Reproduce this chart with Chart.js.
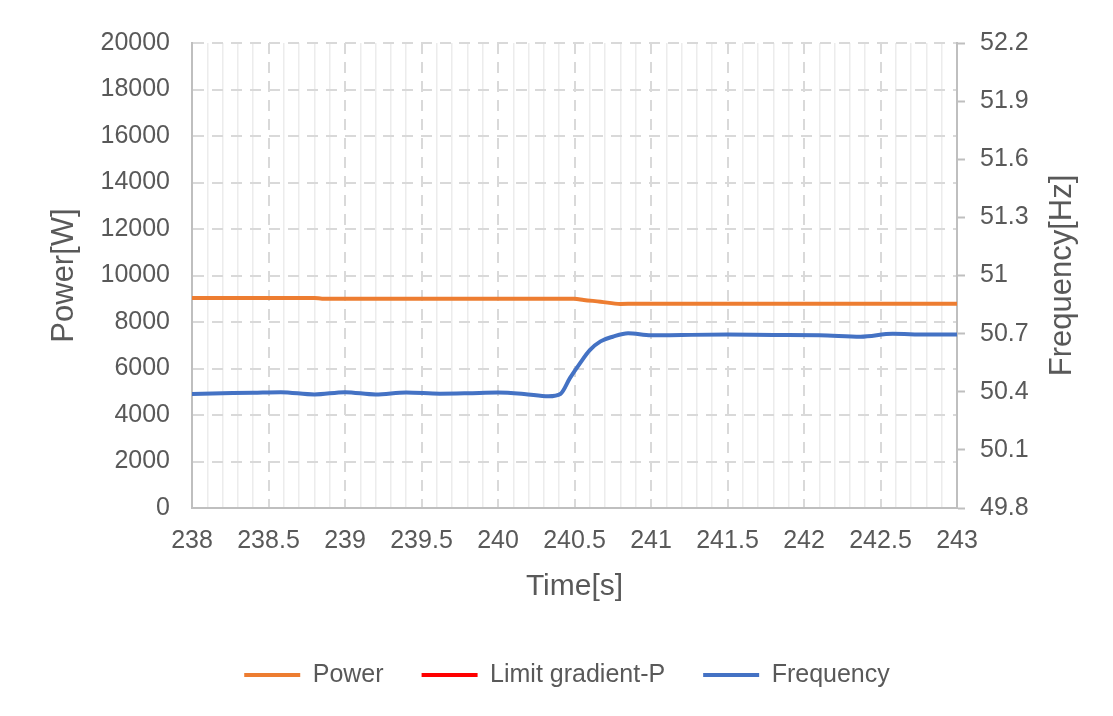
<!DOCTYPE html>
<html><head><meta charset="utf-8">
<script src="https://cdn.jsdelivr.net/npm/chart.js@4"></script>
<style>html,body{margin:0;padding:0;background:#fff;} canvas{display:block;}</style>
</head><body>
<canvas id="c" width="1113" height="716"></canvas>
<script>
// ---- data ----
const powerTimes  = [238.0, 238.8, 238.85, 240.5, 240.56, 240.67, 240.8, 240.9, 241.5, 242.0, 242.5, 243.0];
const powerValues = [9030, 9030, 9005, 9000, 8950, 8875, 8775, 8785, 8785, 8780, 8785, 8785];

const limitTimes  = [];
const limitValues = [];

const freqTimes  = [238.0, 238.2, 238.4, 238.58, 238.8, 239.0, 239.2, 239.4, 239.62, 239.8, 240.0, 240.17, 240.33, 240.41, 240.47, 240.54, 240.6, 240.67, 240.75, 240.85, 241.0, 241.2, 241.5, 241.8, 242.1, 242.37, 242.58, 242.8, 243.0];
const freqValues = [50.389, 50.392, 50.395, 50.398, 50.386, 50.398, 50.386, 50.396, 50.390, 50.392, 50.396, 50.389, 50.377, 50.390, 50.470, 50.552, 50.615, 50.660, 50.684, 50.702, 50.691, 50.693, 50.695, 50.693, 50.692, 50.684, 50.699, 50.695, 50.695];

const seriesNames  = ['Power', 'Limit gradient-P', 'Frequency'];
const seriesColors = ['#ED7D31', '#FF0000', '#4472C4'];

const timeRange  = [238, 243];
const timeMajorStep = 0.5;
const timeMinorStep = 0.1;
const powerRange = [0, 20000];
const powerStep  = 2000;
const freqRange  = [49.8, 52.2];
const freqStep   = 0.3;

const titleX  = 'Time[s]';
const titleY  = 'Power[W]';
const titleY1 = 'Frequency[Hz]';

// ---- styling ----
const FONT = "'Liberation Sans', Arial, sans-serif";
const TXT = '#595959';
const AXIS = '#bfbfbf';
const GRID_DASH = '#d9d9d9';
const GRID_MINOR = '#ececec';

const pts = (t, v) => t.map((x, i) => ({x: x, y: v[i]}));
const isHalf = v => Math.abs(v * 2 - Math.round(v * 2)) < 1e-6;
const fmt = v => String(Math.round(v * 10) / 10);

const rightTitle = {
  id: 'rightTitle',
  afterDraw(chart) {
    const s = chart.scales.y1;
    const ctx = chart.ctx;
    ctx.save();
    ctx.font = '31px ' + FONT;
    ctx.fillStyle = TXT;
    ctx.textAlign = 'center';
    ctx.textBaseline = 'middle';
    ctx.translate(s.right - 51, (s.top + s.bottom) / 2);
    ctx.rotate(-Math.PI / 2);
    ctx.fillText(titleY1, 0, 0);
    ctx.restore();
  }
};

new Chart(document.getElementById('c'), {
  type: 'line',
  data: {
    datasets: [
      {label: seriesNames[0], data: pts(powerTimes, powerValues), borderColor: seriesColors[0], backgroundColor: seriesColors[0], yAxisID: 'y', xAxisID: 'x'},
      {label: seriesNames[1], data: pts(limitTimes, limitValues), borderColor: seriesColors[1], backgroundColor: seriesColors[1], yAxisID: 'y', xAxisID: 'x'},
      {label: seriesNames[2], data: pts(freqTimes, freqValues), borderColor: seriesColors[2], backgroundColor: seriesColors[2], yAxisID: 'y1', xAxisID: 'x'}
    ]
  },
  options: {
    responsive: false,
    animation: false,
    devicePixelRatio: 1,
    elements: {
      line: {borderWidth: 4, tension: 0.4, cubicInterpolationMode: 'monotone', fill: false, borderCapStyle: 'round'},
      point: {radius: 0, hoverRadius: 0}
    },
    layout: {padding: {top: 43, left: 21, right: 0, bottom: 18.5}},
    plugins: {
      tooltip: {enabled: false},
      legend: {
        position: 'bottom',
        labels: {
          font: {family: FONT, size: 25},
          color: TXT,
          boxWidth: 56,
          boxHeight: 4,
          padding: 38,
          generateLabels(chart) {
            const items = Chart.defaults.plugins.legend.labels.generateLabels(chart);
            items.forEach(it => { it.lineWidth = 0; it.fillStyle = it.strokeStyle; });
            return items;
          }
        }
      }
    },
    scales: {
      xm: {
        type: 'linear', position: 'bottom',
        min: timeRange[0], max: timeRange[1],
        ticks: {display: false, stepSize: timeMinorStep},
        grid: {
          drawTicks: false, lineWidth: 1.5,
          color: c => (c.tick && isHalf(c.tick.value)) ? 'rgba(0,0,0,0)' : GRID_MINOR
        },
        border: {display: false},
        afterFit(s) { s.height = 0; }
      },
      x: {
        type: 'linear', position: 'bottom',
        min: timeRange[0], max: timeRange[1],
        ticks: {stepSize: timeMajorStep, autoSkip: false, maxRotation: 0, color: TXT, font: {family: FONT, size: 25}, padding: 18, callback: v => fmt(v)},
        grid: {drawTicks: false, lineWidth: 2, color: GRID_DASH},
        border: {display: true, color: AXIS, width: 2, dash: [11, 8]},
        title: {display: true, text: titleX, color: TXT, font: {family: FONT, size: 30}, padding: {top: 0, bottom: 19.5}},
        afterFit(s) { s.height = 116.5; }
      },
      y: {
        type: 'linear', position: 'left',
        min: powerRange[0], max: powerRange[1],
        ticks: {stepSize: powerStep, color: TXT, font: {family: FONT, size: 25}, padding: 22, callback: v => String(v)},
        grid: {drawTicks: false, lineWidth: 2, color: GRID_DASH},
        border: {display: true, color: AXIS, width: 2, dash: [11, 8]},
        title: {display: true, text: titleY, color: TXT, font: {family: FONT, size: 31}, padding: {top: 25, bottom: 0}},
        afterFit(s) { s.width = 171; }
      },
      y1: {
        type: 'linear', position: 'right',
        min: freqRange[0], max: freqRange[1],
        ticks: {stepSize: freqStep, color: TXT, font: {family: FONT, size: 25}, padding: 15, callback: v => fmt(v)},
        grid: {drawOnChartArea: false, drawTicks: true, tickLength: 8, tickColor: AXIS, tickWidth: 2},
        border: {display: true, color: AXIS, width: 2},
        afterFit(s) { s.width = 156; }
      }
    }
  },
  plugins: [rightTitle]
});
</script>
</body></html>
